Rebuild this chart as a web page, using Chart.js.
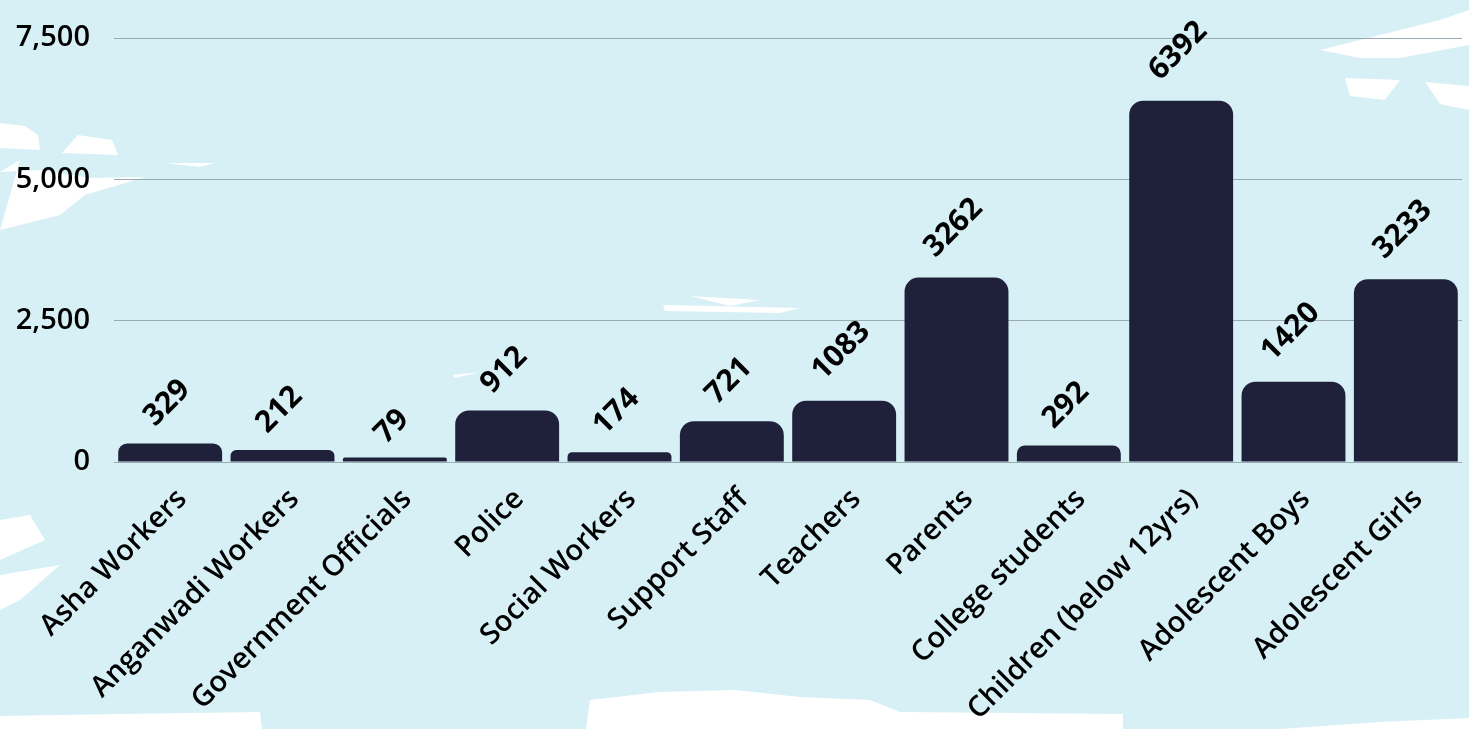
<!DOCTYPE html>
<html>
<head>
<meta charset="utf-8">
<script src="https://cdn.jsdelivr.net/npm/chart.js@4.4.1/dist/chart.umd.min.js"></script>
<style>
  html, body { margin: 0; padding: 0; background: #d7f0f6; }
  #wrap { width: 1469px; height: 729px; position: relative; }
</style>
</head>
<body>
<div id="wrap"><canvas id="barChart"></canvas></div>
<script>
var categories = ['Asha Workers', 'Anganwadi Workers', 'Government Officials', 'Police', 'Social Workers',
  'Support Staff', 'Teachers', 'Parents', 'College students', 'Children (below 12yrs)', 'Adolescent Boys', 'Adolescent Girls'];
var values = [329, 212, 79, 912, 174, 721, 1083, 3262, 292, 6392, 1420, 3233];
var yTicks = [0, 2500, 5000, 7500];

var FONT = "'Open Sans', sans-serif";

// white paint splashes behind the chart
var splashPlugin = {
  id: 'splash',
  beforeDraw: function (chart) {
    var ctx = chart.ctx;
    ctx.save();
    ctx.fillStyle = '#d7f0f6';
    ctx.fillRect(0, 0, chart.width, chart.height);
    ctx.fillStyle = '#ffffff';
    var blobs = [
      [[0,123],[25,126],[38,135],[40,150],[0,148]],
      [[78,135],[112,140],[118,155],[62,153]],
      [[0,172],[20,160],[0,230],[60,215],[85,195],[145,177],[90,178],[40,170]],
      [[165,163],[215,163],[200,167]],
      [[1320,50],[1440,20],[1469,10],[1469,45],[1400,58],[1360,58]],
      [[1345,78],[1400,80],[1385,100],[1350,96]],
      [[1425,82],[1469,86],[1469,110],[1440,104]],
      [[0,520],[30,515],[45,540],[0,560]],
      [[0,575],[60,565],[20,600],[0,610]],
      [[0,716],[120,714],[260,712],[262,729],[0,729]],
      [[586,729],[590,700],[660,692],[735,690],[800,697],[870,700],[900,712],[1123,714],[1123,729]],
      [[1280,729],[1380,722],[1469,718],[1469,729]],
      [[690,296],[760,300],[730,306]],
      [[663,305],[800,308],[780,313],[665,311]],
      [[453,375],[480,372],[455,378]]
    ];
    blobs.forEach(function (b) {
      ctx.beginPath();
      ctx.moveTo(b[0][0], b[0][1]);
      for (var i = 1; i < b.length; i++) ctx.lineTo(b[i][0], b[i][1]);
      ctx.closePath();
      ctx.fill();
    });
    ctx.restore();
  }
};

// rotated value labels above the bars
var valueLabelPlugin = {
  id: 'valueLabels',
  afterDatasetsDraw: function (chart) {
    var ctx = chart.ctx;
    var meta = chart.getDatasetMeta(0);
    ctx.save();
    ctx.font = 'bold 30px ' + FONT;
    ctx.fillStyle = '#000000';
    ctx.textAlign = 'center';
    ctx.textBaseline = 'middle';
    meta.data.forEach(function (bar, i) {
      var txt = String(values[i]);
      var w = ctx.measureText(txt).width;
      var off = 12 + w * 0.55;
      ctx.save();
      ctx.translate(bar.x - 3, bar.y - off);
      ctx.rotate(-Math.PI / 4);
      ctx.fillText(txt, 0, 0);
      ctx.restore();
    });
    ctx.restore();
  }
};

var ctx = document.getElementById('barChart').getContext('2d');
var myChart = new Chart(ctx, {
  type: 'bar',
  data: {
    labels: categories,
    datasets: [{
      data: values,
      backgroundColor: '#1f213b',
      borderRadius: 14,
      borderSkipped: 'start',
      barPercentage: 0.925,
      categoryPercentage: 1.0
    }]
  },
  plugins: [splashPlugin, valueLabelPlugin],
  options: {
    responsive: true,
    maintainAspectRatio: false,
    animation: false,
    layout: { padding: { top: 38, right: 7, left: 0, bottom: 0 } },
    plugins: {
      legend: { display: false },
      tooltip: { enabled: false }
    },
    scales: {
      x: {
        grid: { display: false, drawTicks: false },
        border: { display: false },
        ticks: {
          color: '#000000',
          font: { family: FONT, size: 29, weight: '600' },
          maxRotation: 45,
          minRotation: 45,
          padding: 20,
          labelOffset: 12,
          autoSkip: false
        },
        afterFit: function (scale) { scale.height = 267; }
      },
      y: {
        min: 0,
        max: 7500,
        afterBuildTicks: function (scale) {
          scale.ticks = yTicks.map(function (v) { return { value: v }; });
        },
        grid: { color: '#9aabb2', lineWidth: 1, drawTicks: false },
        border: { display: false },
        ticks: {
          color: '#000000',
          font: { family: FONT, size: 29, weight: '600' },
          padding: 24,
          callback: function (v) { return v.toLocaleString('en-US'); }
        },
        afterFit: function (scale) {
          scale.width = 114;
          scale.paddingTop = 0;
          scale.paddingBottom = 0;
        }
      }
    }
  }
});
</script>
</body>
</html>
